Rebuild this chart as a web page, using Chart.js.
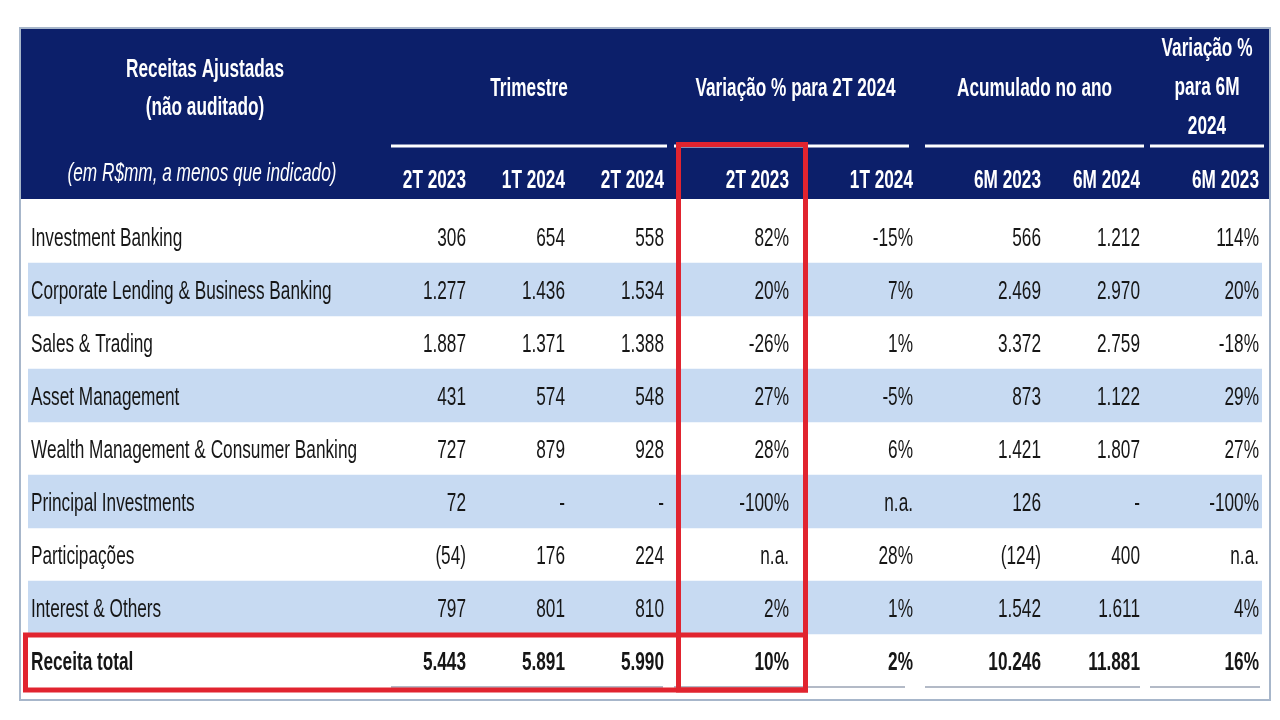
<!DOCTYPE html>
<html><head><meta charset="utf-8">
<script src="https://cdn.jsdelivr.net/npm/chart.js@4"></script>
<style>html,body{margin:0;padding:0;background:#fff}#wrap{width:1280px;height:720px}</style>
</head><body><div id="wrap"><canvas id="c" width="1280" height="720"></canvas></div>
<script>
// ---------- DATA ----------
const rowLabels = ['Investment Banking','Corporate Lending & Business Banking','Sales & Trading','Asset Management','Wealth Management & Consumer Banking','Principal Investments','Participações','Interest & Others','Receita total'];
const colHeaders = ['2T 2023','1T 2024','2T 2024','2T 2023','1T 2024','6M 2023','6M 2024','6M 2023'];
const groupTitles = [['Trimestre'],['Variação % para 2T 2024'],['Acumulado no ano'],['Variação %','para 6M','2024']];
const corner = ['Receitas Ajustadas','(não auditado)'];
const cornerNote = '(em R$mm, a menos que indicado)';
const q2T2023 = [306,1277,1887,431,727,72,-54,797,5443];
const q1T2024 = [654,1436,1371,574,879,null,176,801,5891];
const q2T2024 = [558,1534,1388,548,928,null,224,810,5990];
const varVs2T2023 = [82,20,-26,27,28,-100,null,2,10];
const varVs1T2024 = [-15,7,1,-5,6,null,28,1,2];
const ytd6M2023 = [566,2469,3372,873,1421,126,-124,1542,10246];
const ytd6M2024 = [1212,2970,2759,1122,1807,null,400,1611,11881];
const varYtd6M2023 = [114,20,-18,29,27,-100,null,4,16];
const columns = [
  {vals:q2T2023,kind:'amt'},{vals:q1T2024,kind:'amt'},{vals:q2T2024,kind:'amt'},
  {vals:varVs2T2023,kind:'pct'},{vals:varVs1T2024,kind:'pct'},
  {vals:ytd6M2023,kind:'amt'},{vals:ytd6M2024,kind:'amt'},{vals:varYtd6M2023,kind:'pct'}
];

// ---------- LAYOUT (x units = px from table body left) ----------
const TABLE_W = 1234;
const COL_RIGHT = [438,537,636,761,885,1013,1112,1231];
const GROUP_SPANS = [[363,639],[646,881],[897,1116],[1122,1236]];
const LABEL_X = 3;

// ---------- STYLE ----------
const NAVY = '#0c1f6a', BAND = '#c7daf2', RED = '#e1242f', BORDER = '#a7b6ca', INK = '#161616';
const FAM = '"Liberation Sans Narrow","Arial Narrow",sans-serif';
const VSTRETCH = 1.2;

function fmtAmt(v){
  if (v === null) return '-';
  const s = String(Math.abs(v)).replace(/\B(?=(\d{3})+(?!\d))/g, '.');
  return v < 0 ? '(' + s + ')' : s;
}
function fmtPct(v){ return v === null ? 'n.a.' : v + '%'; }

let narrowOK = null;
function checkNarrow(ctx){
  if (narrowOK !== null) return narrowOK;
  ctx.save();
  ctx.font = '40px "Liberation Sans Narrow", monospace';
  const a = ctx.measureText('Investment Banking 123').width;
  ctx.font = '40px monospace';
  const b = ctx.measureText('Investment Banking 123').width;
  ctx.restore();
  narrowOK = Math.abs(a - b) > 1;
  return narrowOK;
}
function txt(ctx, s, x, y, align, font, color){
  ctx.save();
  ctx.font = font; ctx.fillStyle = color; ctx.textAlign = align; ctx.textBaseline = 'middle';
  ctx.translate(x, y);
  ctx.scale(checkNarrow(ctx) ? 1 : 0.82, VSTRETCH);
  ctx.fillText(s, 0, 0);
  ctx.restore();
}

const tablePlugin = {
  id: 'tablePlugin',
  beforeDatasetsDraw(chart){
    const ctx = chart.ctx, xs = chart.scales.x;
    checkNarrow(ctx);
    ctx.save();
    ctx.fillStyle = NAVY;
    ctx.fillRect(20, 28, 1250, 171);
    ctx.strokeStyle = '#ffffff'; ctx.lineWidth = 3;
    GROUP_SPANS.forEach(g => {
      ctx.beginPath();
      ctx.moveTo(xs.getPixelForValue(g[0]), 146);
      ctx.lineTo(xs.getPixelForValue(g[1]), 146);
      ctx.stroke();
    });
    ctx.restore();
    const hb = 'bold 21px ' + FAM;
    txt(ctx, corner[0], 205, 70, 'center', hb, '#fff');
    txt(ctx, corner[1], 205, 108, 'center', hb, '#fff');
    txt(ctx, cornerNote, 202, 174, 'center', 'italic 21px ' + FAM, '#fff');
    GROUP_SPANS.forEach((g, i) => {
      const cx = (xs.getPixelForValue(g[0]) + xs.getPixelForValue(g[1])) / 2 + (i === 1 ? 4 : 0);
      const lines = groupTitles[i];
      if (lines.length === 1) txt(ctx, lines[0], cx, 89, 'center', hb, '#fff');
      else lines.forEach((l, k) => txt(ctx, l, cx, 49 + 39 * k, 'center', hb, '#fff'));
    });
    colHeaders.forEach((h, i) => txt(ctx, h, xs.getPixelForValue(COL_RIGHT[i]), 181, 'right', hb, '#fff'));
  },
  afterDatasetsDraw(chart){
    const ctx = chart.ctx, xs = chart.scales.x, ys = chart.scales.y;
    const n = rowLabels.length;
    const rowH = (chart.chartArea.bottom - chart.chartArea.top) / n;
    rowLabels.forEach((lab, r) => {
      const y = ys.getPixelForValue(r) + 3;
      const bold = r === n - 1;
      const f = (bold ? 'bold ' : '') + '21px ' + FAM;
      txt(ctx, lab, xs.getPixelForValue(LABEL_X), y, 'left', f, INK);
      columns.forEach((c, ci) => {
        const v = c.vals[r];
        const s = c.kind === 'amt' ? fmtAmt(v) : fmtPct(v);
        txt(ctx, s, xs.getPixelForValue(COL_RIGHT[ci]), y, 'right', f, INK);
      });
    });
    const totBottom = ys.getPixelForValue(n - 1) + rowH / 2;
    ctx.save();
    ctx.strokeStyle = '#b3bac7'; ctx.lineWidth = 2;
    GROUP_SPANS.forEach(g => {
      ctx.beginPath();
      ctx.moveTo(xs.getPixelForValue(g[0]), totBottom);
      ctx.lineTo(xs.getPixelForValue(g[1]) - 4, totBottom);
      ctx.stroke();
    });
    ctx.strokeStyle = RED; ctx.lineWidth = 5;
    const bx0 = xs.getPixelForValue(650.5), bx1 = xs.getPixelForValue(777.5);
    ctx.strokeRect(bx0, 144.5, bx1 - bx0, totBottom + 3 - 144.5);
    const totTop = ys.getPixelForValue(n - 1) - rowH / 2;
    ctx.strokeRect(xs.getPixelForValue(-2.5), totTop + 1, bx1 - xs.getPixelForValue(-2.5), totBottom + 3 - totTop - 1);
    ctx.strokeStyle = BORDER; ctx.lineWidth = 2;
    ctx.strokeRect(20, 28, 1250, 672);
    ctx.restore();
  }
};

new Chart(document.getElementById('c'), {
  type: 'bar',
  data: {
    labels: rowLabels,
    datasets: [{
      label: 'bands',
      data: rowLabels.map((_, i) => i % 2 === 1 ? [0, TABLE_W] : null),
      backgroundColor: BAND,
      borderWidth: 0,
      barPercentage: 1,
      categoryPercentage: 1
    }]
  },
  options: {
    indexAxis: 'y',
    responsive: false,
    animation: false,
    devicePixelRatio: 1,
    layout: { padding: { left: 28, right: 18, top: 210, bottom: 33 } },
    scales: {
      x: { type: 'linear', min: 0, max: TABLE_W, display: false },
      y: { type: 'category', display: false, offset: true }
    },
    plugins: { legend: { display: false }, tooltip: { enabled: false } }
  },
  plugins: [tablePlugin]
});
</script></body></html>
